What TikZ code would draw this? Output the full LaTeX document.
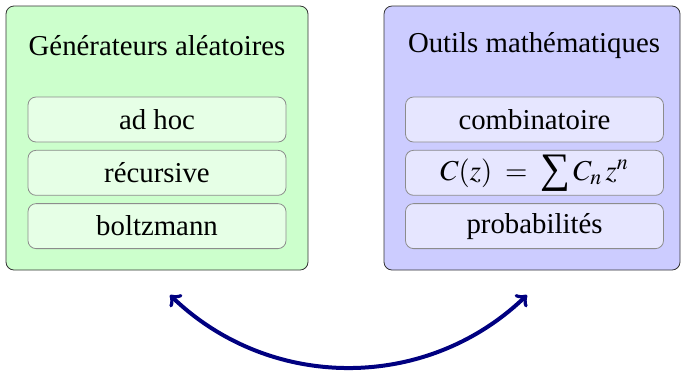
\documentclass[tikz,border=0pt]{standalone}
\usepackage{amsmath,amssymb}
\usepackage{mathptmx}
\usepackage{fontspec}
\setmainfont{Liberation Serif}
\usetikzlibrary{positioning}
\usepackage{xcolor}

\definecolor{vertfonce}{RGB}{204,255,204}
\definecolor{vertclair}{RGB}{230,255,230}
\definecolor{bleufonce}{RGB}{204,204,255}
\definecolor{bleuclair}{RGB}{230,230,255}
\definecolor{marine}{RGB}{0,0,128}

% grand symbole somme, trait fin
\newcommand{\somme}{\mathop{\vcenter{\hbox{\fontsize{21}{21}\selectfont ∑}}}}

\tikzset{
  cadre/.style={draw=black!80, rounded corners=4pt, minimum height=132pt, inner sep=0pt},
  boite/.style={draw=black!45, rounded corners=4pt, minimum width=129pt, minimum height=22.5pt, inner sep=0pt},
  titre/.style={inner sep=0pt}
}

\begin{document}
\begin{tikzpicture}[x=0.5pt,y=-0.5pt, node distance=3.75pt, font=\fontsize{14.4}{17}\selectfont]
		\useasboundingbox (0,0) rectangle (684,371);

		% les deux grands cadres
		\node[cadre, fill=vertfonce, minimum width=151pt] (gen)    at (157,138) {};
		\node[cadre, fill=bleufonce, minimum width=148pt] (outils) at (532,138) {};

		\node[titre] (gentitre) at (157,46) {Générateurs aléatoires};
		\node[titre] (outtitre) at (534,46) {Outils mathématiques};

		% colonne de gauche
		\node[boite, fill=vertclair] (adhoc) at (157,119.5) {ad hoc};
		\node[boite, fill=vertclair, below=of adhoc] (recur) {récursive};
		\node[boite, fill=vertclair, below=of recur] (boltz) {boltzmann};

		% colonne de droite
		\node[boite, fill=bleuclair] (comb) at (534.5,119.5) {combinatoire};
		\node[boite, fill=bleuclair, below=of comb] (serie) {$C(z) \;=\; \somme C_n\, z^n$};
		\node[boite, fill=bleuclair, below=of serie] (proba) {probabilités};

		% la fleche entre les deux
		\coordinate (gauche) at (170,295);
		\coordinate (droite) at (527,295);
		\draw[marine, line width=2pt, <->, >=to, bend right=44] (gauche) to (droite);
	  \end{tikzpicture}
\end{document}
